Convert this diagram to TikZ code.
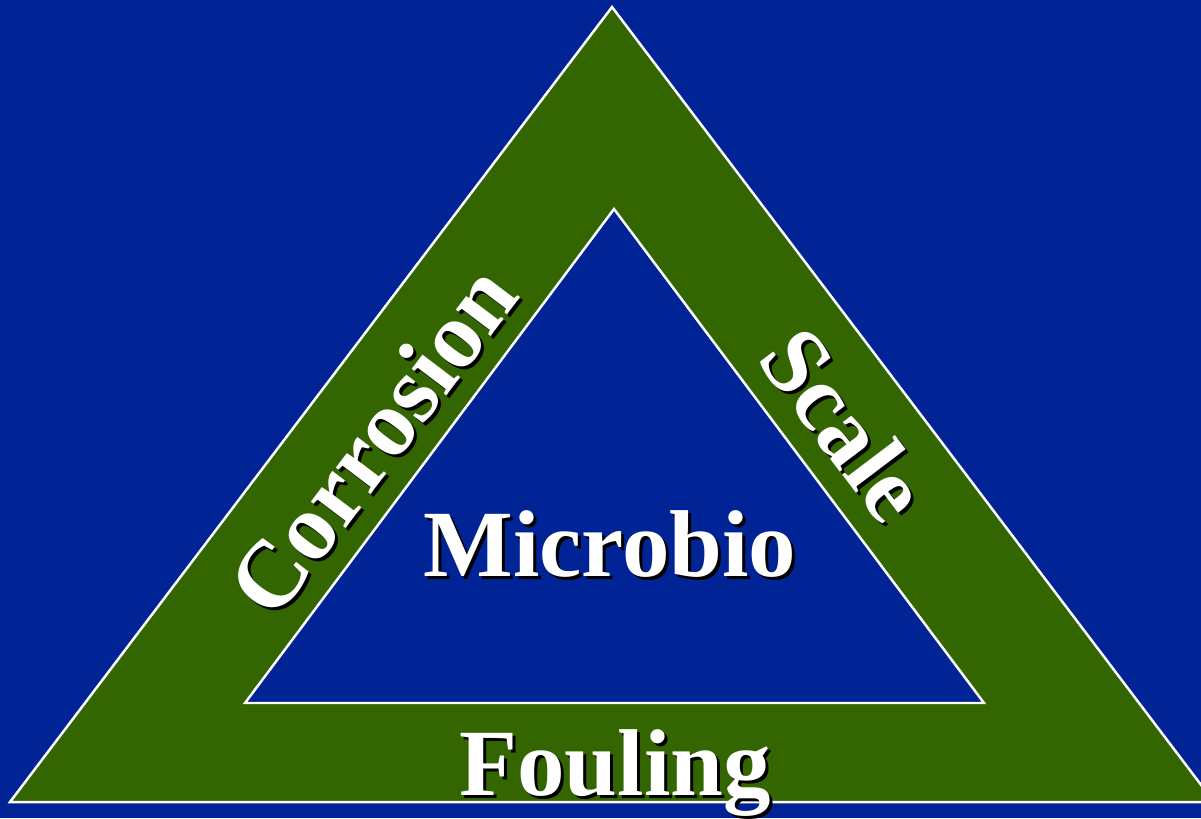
\documentclass[tikz,border=0pt]{standalone}
\usepackage{fontspec}
\setmainfont{Liberation Serif}
\usepackage{tikz}
\usetikzlibrary{calc}

\definecolor{bgblue}{HTML}{002395}
\definecolor{bandgreen}{HTML}{336600}

\begin{document}
\begin{tikzpicture}[
  x=0.01cm, y=-0.01cm,
  band/.style={fill=bandgreen, draw=white, line width=0.7pt, line join=miter},
  hole/.style={fill=bgblue, draw=white, line width=0.7pt, line join=miter},
  lbl/.style={inner sep=0pt, text=white, font=\fontsize{27}{30}\selectfont\bfseries},
  shade/.style={lbl, text=black}
]
\fill[bgblue] (0,0) rectangle (1201,818);
\useasboundingbox (0,0) rectangle (1201,818);
\clip (0,0) rectangle (1201,818);
% triangle corners
\coordinate (top) at (612,7);
\coordinate (bl) at (10,802);
\coordinate (br) at (1214,802);
\coordinate (itop) at (614,209);
\coordinate (ibl) at (245,703);
\coordinate (ibr) at (984,703);
\draw[band] (top) -- (bl) -- (br) -- cycle;
\draw[hole] (itop) -- (ibl) -- (ibr) -- cycle;
% labels with drop shadow
\coordinate (corrosion-pos) at (372,440);
\coordinate (scale-pos) at (845,424);
\coordinate (microbio-pos) at (610,544);
\coordinate (fouling-pos) at (615,795);
\node[shade, rotate=52.87] (corrosion-sh) at ([shift={(3,3)}]corrosion-pos) {Corrosion};
\node[lbl, rotate=52.87] (corrosion) at (corrosion-pos) {Corrosion};
\node[shade, rotate=-52.87] (scale-sh) at ([shift={(3,3)}]scale-pos) {Scale};
\node[lbl, rotate=-52.87] (scale) at (scale-pos) {Scale};
\node[shade] (microbio-sh) at ([shift={(3,3)}]microbio-pos) {Microbio};
\node[lbl] (microbio) at (microbio-pos) {Microbio};
\node[shade, anchor=base] (fouling-sh) at ([shift={(3,3)}]fouling-pos) {Fouling};
\node[lbl, anchor=base] (fouling) at (fouling-pos) {Fouling};
\end{tikzpicture}
\end{document}
